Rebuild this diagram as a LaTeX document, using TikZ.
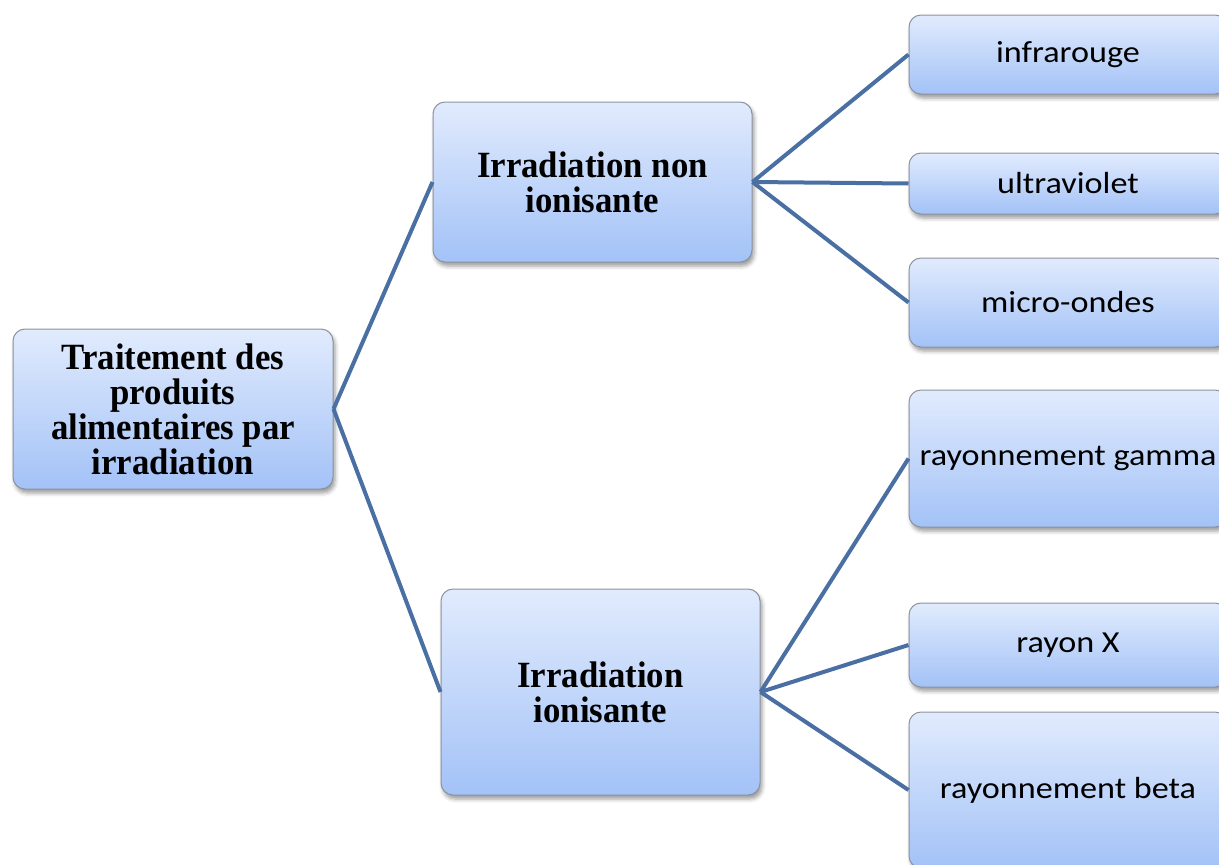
\documentclass[tikz,border=0pt]{standalone}
\usepackage{fontspec}
\setmainfont{Liberation Serif}[FakeStretch=0.94]
\newfontfamily\boxsans{Carlito}[FakeStretch=1.12]
\usetikzlibrary{shadows.blur}
\definecolor{boxtop}{RGB}{225,235,253}
\definecolor{boxbot}{RGB}{163,194,247}
\definecolor{boxline}{RGB}{140,146,158}
\definecolor{linkcol}{RGB}{73,111,163}
\tikzset{
 box/.style={draw=boxline, line width=1pt, rounded corners=12pt, top color=boxtop, bottom color=boxbot, inner sep=0pt, align=center,
   blur shadow={shadow xshift=2pt, shadow yshift=-4pt, shadow blur radius=4pt, shadow opacity=40}},
 mainbox/.style={box, font=\fontsize{37}{35}\selectfont\bfseries},
 leaf/.style={box, minimum width=318pt, font=\boxsans\fontsize{30.5}{36}\selectfont},
 linkline/.style={draw=linkcol, line width=4pt},
}
\begin{document}
\begin{tikzpicture}[x=1pt,y=-1pt]
\useasboundingbox (0,0) rectangle (1219,865);
\node[mainbox, minimum width=320pt, minimum height=160pt] (root) at (173,409) {Traitement des\\produits\\alimentaires par\\irradiation};
\node[mainbox, minimum width=319pt, minimum height=160pt] (nonion) at (592.5,182) {Irradiation non\\ionisante};
\node[mainbox, minimum width=319pt, minimum height=206pt] (ion) at (600.5,692) {Irradiation\\ionisante};
\node[leaf, minimum height=79pt] (infra) at (1068,54.5) {infrarouge};
\node[leaf, minimum height=61pt] (ultra) at (1068,183.5) {ultraviolet};
\node[leaf, minimum height=89pt] (micro) at (1068,302.5) {micro-ondes};
\node[leaf, minimum height=137pt] (gamma) at (1068,458.5) {rayonnement gamma};
\node[leaf, minimum height=84pt] (rx) at (1068,645) {rayon X};
\node[leaf, minimum height=156pt] (beta) at (1068,790) {rayonnement beta};
\draw[linkline] (root.east) -- (nonion.west);
\draw[linkline] (root.east) -- (ion.west);
\draw[linkline] (nonion.east) -- (infra.west);
\draw[linkline] (nonion.east) -- (ultra.west);
\draw[linkline] (nonion.east) -- (micro.west);
\draw[linkline] (ion.east) -- (gamma.west);
\draw[linkline] (ion.east) -- (rx.west);
\draw[linkline] (ion.east) -- (beta.west);
\end{tikzpicture}
\end{document}
